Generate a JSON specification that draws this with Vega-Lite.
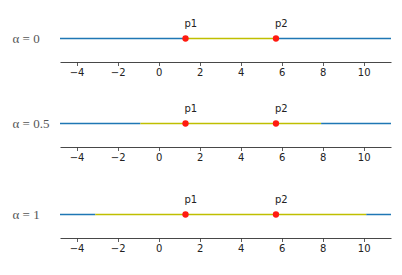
{
  "$schema": "https://vega.github.io/schema/vega-lite/v6.json",
  "autosize": {"type": "pad"},
  "padding": {"left": 12, "top": 15, "right": 5, "bottom": 5},
  "background": "white",
  "config": {"view": {"stroke": null}},
  "datasets": {
    "d": [
      {"alpha": "0", "kind": "base", "x": -4.81, "x2": 1.31},
      {"alpha": "0", "kind": "base", "x": 5.72, "x2": 11.33},
      {"alpha": "0", "kind": "seg", "x": 1.31, "x2": 5.72},
      {"alpha": "0", "kind": "pt", "x": 1.31, "name": "p1"},
      {"alpha": "0", "kind": "pt", "x": 5.72, "name": "p2"},
      {"alpha": "0.5", "kind": "base", "x": -4.81, "x2": -0.89},
      {"alpha": "0.5", "kind": "base", "x": 7.92, "x2": 11.33},
      {"alpha": "0.5", "kind": "seg", "x": -0.89, "x2": 7.92},
      {"alpha": "0.5", "kind": "pt", "x": 1.31, "name": "p1"},
      {"alpha": "0.5", "kind": "pt", "x": 5.72, "name": "p2"},
      {"alpha": "1", "kind": "base", "x": -4.81, "x2": -3.09},
      {"alpha": "1", "kind": "base", "x": 10.12, "x2": 11.33},
      {"alpha": "1", "kind": "seg", "x": -3.09, "x2": 10.12},
      {"alpha": "1", "kind": "pt", "x": 1.31, "name": "p1"},
      {"alpha": "1", "kind": "pt", "x": 5.72, "name": "p2"}
    ]
  },
  "spacing": 22,
  "vconcat": [
    {
      "width": 331, "height": 47,
      "data": {"name": "d"},
      "transform": [{"filter": "datum.alpha == '0'"}],
      "encoding": {
        "x": {"field": "x", "type": "quantitative", "scale": {"domain": [-4.81, 11.33], "nice": false, "zero": false},
          "axis": {"values": [-4, -2, 0, 2, 4, 6, 8, 10], "grid": false, "title": null, "tickSize": 3.5, "tickColor": "#333", "domainColor": "#333", "tickWidth": 0.8, "domainWidth": 0.9, "labelFont": "DejaVu Sans", "labelFontSize": 10, "labelColor": "#222", "labelPadding": 2}},
        "y": {"datum": 0, "type": "quantitative", "scale": {"domain": [-1, 1]},
          "axis": {"title": "α = 0", "labels": false, "ticks": false, "domain": false, "grid": false, "titleAngle": 0, "titleAlign": "left", "titleBaseline": "middle", "titleX": -48, "titleY": 23.5, "titleFont": "Liberation Serif", "titleFontSize": 13, "titleFontWeight": "normal", "titleColor": "#555"}}
      },
      "layer": [
        {"transform": [{"filter": "datum.kind == 'base'"}], "mark": {"type": "rule", "color": "#1f77b4", "strokeWidth": 1.5}, "encoding": {"x2": {"field": "x2"}}},
        {"transform": [{"filter": "datum.kind == 'seg'"}], "mark": {"type": "rule", "color": "#bfbf00", "strokeWidth": 1.5}, "encoding": {"x2": {"field": "x2"}}},
        {"transform": [{"filter": "datum.kind == 'pt'"}], "mark": {"type": "circle", "color": "#ff1a10", "size": 40, "opacity": 1}},
        {"transform": [{"filter": "datum.kind == 'pt'"}], "mark": {"type": "text", "align": "left", "baseline": "middle", "dx": -1, "dy": -15, "font": "DejaVu Sans", "fontSize": 10, "color": "#222"}, "encoding": {"text": {"field": "name"}}}
      ]
    },
    {
      "spacing": 28,
      "vconcat": [
        {
          "width": 331, "height": 47,
          "data": {"name": "d"},
          "transform": [{"filter": "datum.alpha == '0.5'"}],
          "encoding": {
            "x": {"field": "x", "type": "quantitative", "scale": {"domain": [-4.81, 11.33], "nice": false, "zero": false},
              "axis": {"values": [-4, -2, 0, 2, 4, 6, 8, 10], "grid": false, "title": null, "tickSize": 3.5, "tickColor": "#333", "domainColor": "#333", "tickWidth": 0.8, "domainWidth": 0.9, "labelFont": "DejaVu Sans", "labelFontSize": 10, "labelColor": "#222", "labelPadding": 2}},
            "y": {"datum": 0, "type": "quantitative", "scale": {"domain": [-1, 1]},
              "axis": {"title": "α = 0.5", "labels": false, "ticks": false, "domain": false, "grid": false, "titleAngle": 0, "titleAlign": "left", "titleBaseline": "middle", "titleX": -48, "titleY": 23.5, "titleFont": "Liberation Serif", "titleFontSize": 13, "titleFontWeight": "normal", "titleColor": "#555"}}
          },
          "layer": [
            {"transform": [{"filter": "datum.kind == 'base'"}], "mark": {"type": "rule", "color": "#1f77b4", "strokeWidth": 1.5}, "encoding": {"x2": {"field": "x2"}}},
            {"transform": [{"filter": "datum.kind == 'seg'"}], "mark": {"type": "rule", "color": "#bfbf00", "strokeWidth": 1.5}, "encoding": {"x2": {"field": "x2"}}},
            {"transform": [{"filter": "datum.kind == 'pt'"}], "mark": {"type": "circle", "color": "#ff1a10", "size": 40, "opacity": 1}},
            {"transform": [{"filter": "datum.kind == 'pt'"}], "mark": {"type": "text", "align": "left", "baseline": "middle", "dx": -1, "dy": -15, "font": "DejaVu Sans", "fontSize": 10, "color": "#222"}, "encoding": {"text": {"field": "name"}}}
          ]
        },
        {
          "width": 331, "height": 47,
          "data": {"name": "d"},
          "transform": [{"filter": "datum.alpha == '1'"}],
          "encoding": {
            "x": {"field": "x", "type": "quantitative", "scale": {"domain": [-4.81, 11.33], "nice": false, "zero": false},
              "axis": {"values": [-4, -2, 0, 2, 4, 6, 8, 10], "grid": false, "title": null, "tickSize": 3.5, "tickColor": "#333", "domainColor": "#333", "tickWidth": 0.8, "domainWidth": 0.9, "labelFont": "DejaVu Sans", "labelFontSize": 10, "labelColor": "#222", "labelPadding": 2}},
            "y": {"datum": 0, "type": "quantitative", "scale": {"domain": [-1, 1]},
              "axis": {"title": "α = 1", "labels": false, "ticks": false, "domain": false, "grid": false, "titleAngle": 0, "titleAlign": "left", "titleBaseline": "middle", "titleX": -48, "titleY": 23.5, "titleFont": "Liberation Serif", "titleFontSize": 13, "titleFontWeight": "normal", "titleColor": "#555"}}
          },
          "layer": [
            {"transform": [{"filter": "datum.kind == 'base'"}], "mark": {"type": "rule", "color": "#1f77b4", "strokeWidth": 1.5}, "encoding": {"x2": {"field": "x2"}}},
            {"transform": [{"filter": "datum.kind == 'seg'"}], "mark": {"type": "rule", "color": "#bfbf00", "strokeWidth": 1.5}, "encoding": {"x2": {"field": "x2"}}},
            {"transform": [{"filter": "datum.kind == 'pt'"}], "mark": {"type": "circle", "color": "#ff1a10", "size": 40, "opacity": 1}},
            {"transform": [{"filter": "datum.kind == 'pt'"}], "mark": {"type": "text", "align": "left", "baseline": "middle", "dx": -1, "dy": -15, "font": "DejaVu Sans", "fontSize": 10, "color": "#222"}, "encoding": {"text": {"field": "name"}}}
          ]
        }
      ]
    }
  ]
}
